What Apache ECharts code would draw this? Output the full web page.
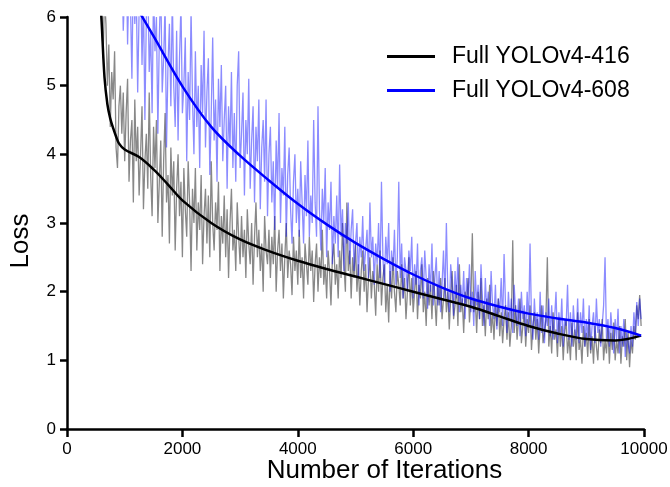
<!DOCTYPE html>
<html>
<head>
<meta charset="utf-8" />
<script src="https://cdn.jsdelivr.net/npm/echarts@6/dist/echarts.min.js"></script>
<style>
  html, body { margin: 0; padding: 0; background: #fff; }
  #chart { width: 670px; height: 487px; }
</style>
</head>
<body>
<div id="chart"></div>
<script>
// raw loss, one value every 25 iterations
const rawStep = 25;
const raw416Start = 550;
const raw416 = [
  7.4, 6.6, 6.2, 5.4, 6.3, 5.9, 5.0, 5.6, 4.4, 5.2, 4.8, 5.5, 4.1, 3.8, 4.7, 5.0, 4.3, 4.9, 3.9, 4.6,
  5.1, 3.6, 4.2, 4.5, 3.3, 4.8, 3.9, 4.4, 3.4, 4.0, 4.7, 3.2, 3.9, 4.3, 3.5, 4.9, 3.7, 3.1, 4.4, 3.8,
  4.5, 3.0, 3.6, 4.2, 2.8, 3.9, 4.6, 3.3, 3.7, 2.7, 4.1, 3.4, 3.9, 2.6, 3.5, 4.0, 3.1, 3.6, 2.5, 3.8,
  3.2, 2.8, 3.9, 3.3, 2.3, 3.5, 3.0, 3.8, 2.6, 3.3, 2.9, 3.7, 2.4, 3.1, 3.5, 2.7, 3.4, 2.5, 3.9, 3.0,
  2.6, 3.3, 2.9, 3.6, 2.3, 3.1, 2.7, 3.4, 2.5, 3.2, 2.2, 3.0, 3.5, 2.6, 2.9, 2.3, 3.3, 2.8, 2.4, 3.1,
  2.5, 2.9, 2.2, 3.2, 2.7, 2.4, 3.0, 2.1, 2.8, 3.3, 2.5, 2.9, 2.3, 2.7, 2.0, 3.1, 2.6, 2.4, 2.9, 2.2,
  2.8, 2.4, 3.1, 2.0, 2.6, 2.9, 2.3, 2.7, 1.9, 2.5, 3.0, 2.2, 2.6, 2.4, 1.95, 2.8, 2.3, 2.6, 2.1, 2.9,
  2.2, 2.5, 1.9, 2.7, 2.4, 2.1, 2.8, 2.3, 2.6, 1.85, 2.4, 2.7, 2.0, 2.5, 2.2, 2.9, 2.1, 2.4, 1.9, 2.6,
  2.3, 1.8, 2.5, 2.7, 2.1, 2.4, 1.9, 2.6, 2.2, 3.0, 2.4, 2.0, 3.3, 2.3, 2.6, 1.9, 2.5, 2.2, 2.7, 2.0,
  2.4, 1.8, 2.3, 2.6, 2.0, 2.4, 1.7, 2.2, 2.5, 1.9, 2.3, 2.1, 1.65, 2.4, 2.0, 2.6, 1.8, 2.2, 2.4, 1.7,
  2.1, 1.55, 2.3, 1.9, 2.5, 2.0, 1.7, 2.3, 2.1, 1.8, 2.4, 1.9, 2.2, 1.6, 2.0, 2.5, 1.8, 2.2, 1.7, 2.0,
  2.3, 1.6, 2.1, 1.9, 2.4, 1.7, 2.0, 1.5, 2.2, 1.8, 2.1, 1.6, 2.3, 1.9, 1.5, 2.1, 1.8, 2.2, 1.6, 1.9,
  2.2, 1.7, 2.0, 1.45, 1.9, 2.3, 1.6, 1.8, 2.1, 1.5, 2.4, 1.7, 1.9, 1.4, 2.0, 1.8, 2.2, 1.55, 1.9, 2.85,
  1.7, 1.9, 1.4, 2.0, 1.6, 2.2, 1.5, 1.8, 1.35, 1.9, 1.6, 2.1, 1.4, 1.7, 1.3, 1.8, 1.5, 1.9, 1.35, 1.7,
  1.25, 1.6, 1.8, 1.3, 1.7, 1.2, 1.5, 2.75, 1.4, 1.8, 1.3, 1.6, 1.9, 1.25, 1.5, 1.7, 1.2, 1.6, 1.4, 1.8,
  1.15, 1.5, 1.7, 1.3, 1.6, 1.1, 1.5, 1.8, 1.25, 1.4, 1.6, 2.5, 1.2, 1.5, 1.1, 1.7, 1.3, 1.45, 1.05, 1.6,
  1.2, 1.5, 1.0, 1.4, 1.6, 1.1, 1.35, 1.0, 1.55, 1.2, 1.45, 1.0, 1.7, 1.15, 1.3, 0.95, 1.5, 1.2, 1.4, 1.05,
  1.6, 1.1, 1.35, 0.95, 1.5, 1.2, 1.0, 1.45, 1.25, 1.6, 1.0, 1.3, 1.1, 1.5, 0.95, 1.4, 1.15, 1.55, 1.0, 1.3,
  1.1, 1.5, 0.95, 1.35, 1.2, 1.6, 1.0, 1.4, 0.9, 1.3, 1.1, 1.5, 1.3, 1.8, 1.6, 1.95, 1.5
];
const raw608Start = 900;
const raw608 = [
  7.2, 6.5, 6.9, 5.8, 6.4, 7.0, 5.6, 6.6, 6.2, 5.1, 6.8, 5.9, 6.4, 4.9, 6.1, 6.7, 5.3, 6.3, 4.5, 6.0,
  6.6, 5.2, 5.8, 4.6, 6.4, 5.5, 6.0, 4.3, 5.7, 6.5, 4.9, 5.4, 6.2, 4.1, 5.3, 5.9, 4.7, 6.3, 5.0, 4.4,
  5.8, 4.2, 5.4, 6.2, 4.6, 5.0, 5.7, 3.9, 5.2, 4.5, 6.1, 4.8, 4.0, 5.5, 4.4, 5.0, 3.8, 5.3, 4.6, 5.8,
  4.1, 4.9, 5.4, 3.7, 4.6, 5.7, 4.2, 4.8, 3.6, 5.1, 4.4, 5.3, 3.9, 4.5, 5.0, 3.5, 4.7, 4.1, 5.2, 3.8,
  4.6, 3.6, 5.0, 5.5, 3.8, 4.3, 4.9, 3.4, 4.5, 4.0, 5.1, 3.5, 4.2, 4.7, 3.3, 4.4, 3.9, 4.8, 3.2, 4.1,
  4.5, 3.6, 4.8, 3.1, 4.0, 4.4, 3.3, 3.9, 2.9, 4.2, 3.5, 4.6, 3.0, 3.8, 3.4, 4.4, 2.8, 3.7, 4.1, 3.2,
  2.7, 3.6, 4.0, 3.0, 3.5, 2.8, 3.9, 3.3, 2.7, 3.7, 3.1, 4.2, 2.8, 3.4, 3.0, 4.5, 3.3, 2.8, 4.7, 3.2,
  2.6, 3.5, 3.0, 3.8, 2.5, 3.3, 2.9, 3.6, 2.4, 3.1, 2.7, 3.4, 2.5, 3.85, 2.8, 3.2, 2.3, 3.0, 2.7, 3.3,
  2.4, 2.9, 3.2, 2.3, 2.7, 3.0, 2.2, 2.8, 2.5, 3.1, 2.3, 2.6, 2.9, 2.2, 3.3, 2.5, 2.8, 2.1, 2.7, 2.4,
  3.0, 2.2, 3.6, 2.5, 2.1, 2.8, 2.4, 3.0, 2.0, 2.6, 2.3, 2.9, 2.1, 2.5, 3.6, 2.2, 2.7, 1.9, 2.5, 2.3,
  2.0, 2.6, 2.3, 2.8, 1.9, 2.4, 2.1, 2.7, 1.8, 2.3, 2.5, 1.9, 2.6, 2.2, 1.75, 2.4, 2.0, 2.7, 1.8, 2.2,
  2.5, 1.8, 2.3, 1.7, 2.1, 2.6, 1.9, 3.0, 2.0, 1.7, 2.4, 2.1, 1.65, 2.3, 1.9, 2.5, 1.7, 2.1, 1.8, 2.3,
  1.6, 2.2, 1.9, 2.4, 1.7, 2.0, 1.5, 2.3, 1.8, 2.1, 1.6, 2.4, 1.9, 1.5, 2.2, 1.7, 2.0, 1.5, 2.3, 1.8,
  1.6, 2.1, 1.45, 1.9, 1.7, 2.2, 1.5, 2.55, 1.8, 1.4, 2.0, 1.6, 1.9, 1.4, 2.1, 1.7, 1.5, 1.9, 1.35, 2.0,
  1.6, 1.8, 1.35, 2.0, 1.5, 2.7, 1.6, 1.3, 1.9, 1.5, 1.7, 1.3, 2.0, 1.4, 1.8, 1.25, 1.7, 1.5, 1.9, 1.35,
  1.8, 1.3, 1.6, 2.0, 1.25, 1.7, 1.4, 1.9, 1.2, 1.6, 1.5, 2.1, 1.3, 1.7, 1.2, 1.8, 1.45, 1.3, 1.9, 1.25,
  1.7, 1.4, 1.9, 1.2, 1.6, 1.3, 1.8, 1.15, 1.5, 1.7, 1.25, 1.9, 1.4, 1.6, 1.2, 1.5, 1.8, 2.5, 1.3, 1.6,
  1.2, 1.7, 1.4, 1.1, 1.6, 1.3, 1.75, 1.1, 1.5, 1.2, 1.6, 1.05, 1.4, 1.25, 1.1, 1.5, 1.2, 1.7, 1.4, 1.85,
  1.5, 1.9, 1.6
];

// smoothed curves
const smoothIter416 = [560, 600, 650, 700, 750, 800, 850, 900, 1000, 1250, 1500, 1750, 2000, 2500, 3000, 3500, 4000, 4500, 5000, 5500, 6000, 6500, 7000, 7500, 8000, 8500, 9000, 9500, 9950];
const smoothLoss416 = [6.5, 5.93, 5.12, 4.73, 4.52, 4.38, 4.26, 4.16, 4.07, 3.96, 3.78, 3.56, 3.33, 3.0, 2.76, 2.59, 2.45, 2.33, 2.22, 2.11, 2.0, 1.89, 1.78, 1.64, 1.5, 1.39, 1.31, 1.29, 1.36];
const smoothIter608 = [1200, 1500, 2000, 2500, 3000, 3500, 4000, 4500, 5000, 5500, 6000, 6500, 7000, 7500, 8000, 8500, 9000, 9500, 9950];
const smoothLoss608 = [6.15, 5.72, 4.99, 4.4, 3.98, 3.62, 3.28, 2.98, 2.71, 2.47, 2.25, 2.06, 1.9, 1.78, 1.68, 1.61, 1.55, 1.47, 1.36];

const seriesNames = ['Full YOLOv4-416', 'Full YOLOv4-608'];
const xTicks = { min: 0, max: 10000, interval: 2000 };
const yTicks = { min: 0, max: 6, interval: 1 };

const pairs = (start, vals) => vals.map((v, i) => [start + i * rawStep, v]);
const zip = (xs, ys) => xs.map((x, i) => [x, ys[i]]);

const axisFont = 'Liberation Sans Narrow, Liberation Sans, Arial, sans-serif';

const chart = echarts.init(document.getElementById('chart'));
chart.setOption({
  animation: false,
  grid: { left: 67, right: 26, top: 17, bottom: 58, outerBoundsMode: 'none' },
  legend: {
    data: seriesNames,
    orient: 'vertical',
    left: 387,
    top: 45,
    padding: 0,
    itemWidth: 48,
    itemHeight: 3,
    itemGap: 11,
    icon: 'rect',
    textStyle: {
      fontSize: 23,
      color: '#000',
      fontFamily: 'Liberation Sans, Arial, sans-serif',
      padding: [0, 0, 0, 12]
    }
  },
  xAxis: {
    type: 'value',
    min: xTicks.min,
    max: xTicks.max,
    interval: xTicks.interval,
    name: 'Number of Iterations',
    nameLocation: 'middle',
    nameGap: 29,
    nameMoveOverlap: false,
    nameTextStyle: {
      fontSize: 26, color: '#000', fontFamily: axisFont,
      padding: [0, 0, 0, 58]
    },
    axisLine: { lineStyle: { color: '#000', width: 2.5 } },
    axisTick: { length: 8, lineStyle: { color: '#000', width: 2.5 } },
    axisLabel: { fontSize: 17, color: '#000', margin: 12, fontFamily: axisFont, formatter: (v) => String(v) },
    splitLine: { show: false }
  },
  yAxis: {
    type: 'value',
    min: yTicks.min,
    max: yTicks.max,
    interval: yTicks.interval,
    name: 'Loss',
    nameLocation: 'middle',
    nameGap: 33,
    nameMoveOverlap: false,
    nameTextStyle: {
      fontSize: 26, color: '#000', fontFamily: axisFont,
      padding: [0, 36, 0, 0]
    },
    axisLine: { show: true, lineStyle: { color: '#000', width: 2.5 } },
    axisTick: { show: true, length: 7, lineStyle: { color: '#000', width: 2.5 } },
    axisLabel: { fontSize: 17, color: '#000', margin: 11, fontFamily: axisFont },
    splitLine: { show: false }
  },
  series: [
    {
      name: 'raw416',
      type: 'line',
      data: pairs(raw416Start, raw416),
      showSymbol: false,
      lineStyle: { color: '#888888', width: 1.3 },
      z: 1
    },
    {
      name: 'raw608',
      type: 'line',
      data: pairs(raw608Start, raw608),
      showSymbol: false,
      lineStyle: { color: 'rgba(0,0,255,0.45)', width: 1.3 },
      z: 2
    },
    {
      name: seriesNames[0],
      type: 'line',
      data: zip(smoothIter416, smoothLoss416),
      smooth: 0.35,
      showSymbol: false,
      itemStyle: { color: '#000' },
      lineStyle: { color: '#000', width: 2.5 },
      z: 3
    },
    {
      name: seriesNames[1],
      type: 'line',
      data: zip(smoothIter608, smoothLoss608),
      smooth: 0.35,
      showSymbol: false,
      itemStyle: { color: '#0000ff' },
      lineStyle: { color: '#0000ff', width: 2.5 },
      z: 4
    }
  ]
});
</script>
</body>
</html>
